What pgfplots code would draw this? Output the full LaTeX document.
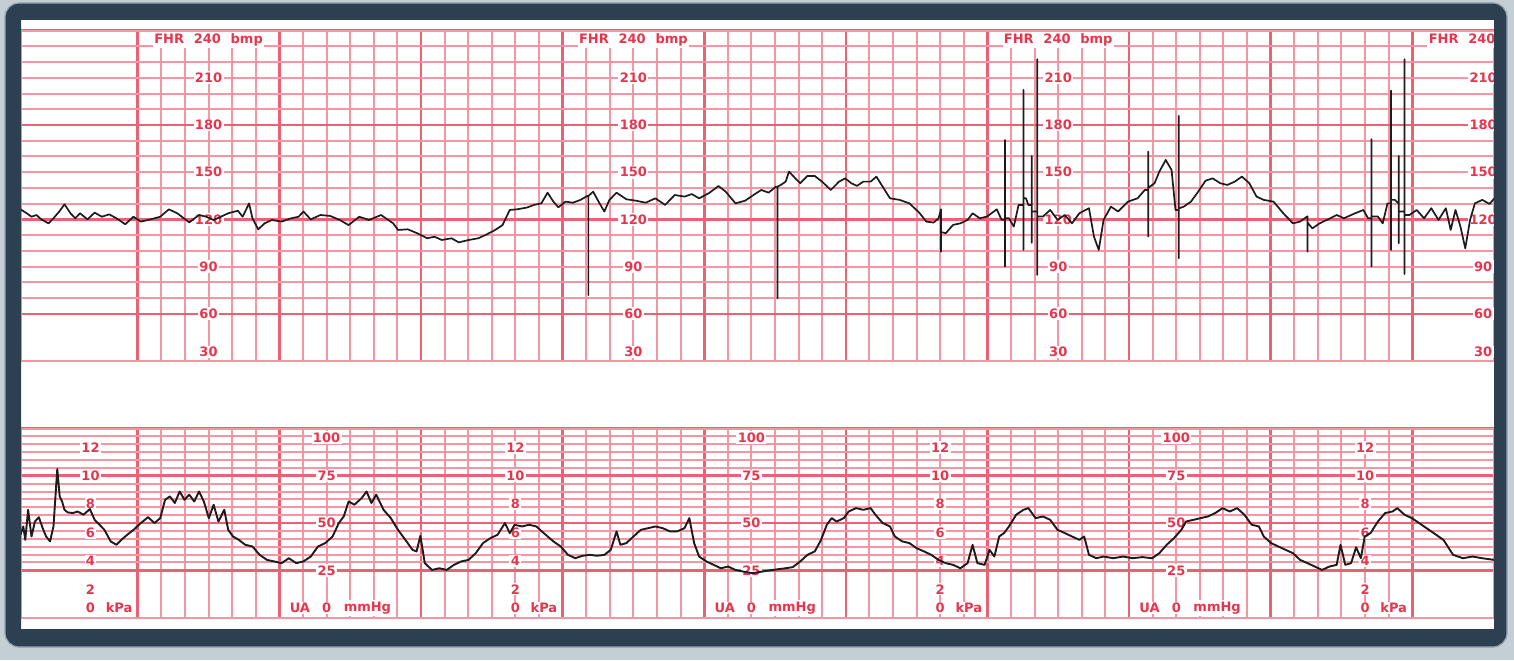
\documentclass[border=0pt]{standalone}
\usepackage{pgfplots}
\pgfplotsset{compat=1.18}
\usepackage{fontspec}
\setmainfont{DejaVu Sans}
\definecolor{framedark}{RGB}{44,64,82}
\definecolor{frameedge}{RGB}{150,165,175}
\definecolor{frameouter}{RGB}{196,206,213}
\definecolor{gridminor}{RGB}{245,150,162}
\definecolor{gridmajor}{RGB}{236,98,116}
\definecolor{labred}{RGB}{232,52,76}
\definecolor{tracec}{RGB}{28,28,28}
\tikzset{lab/.style={fill=white, text=labred, font=\fontsize{6.5}{7}\selectfont\bfseries, inner sep=0.7pt}}
\pgfplotsset{ctg/.style={
  scale only axis, anchor=south west,
  xmin=0.1758, xmax=10.577,
  xtick={1,2,3,4,5,6,7,8,9,10}, minor x tick num=5,
  grid=both,
  major grid style={draw=gridmajor, line width=1.3pt},
  minor grid style={draw=gridminor, line width=1.0pt},
  xticklabels={}, yticklabels={},
  major tick length=0pt, minor tick length=0pt,
  axis line style={draw=gridminor, line width=1.0pt},
}}
\begin{document}
\begin{tikzpicture}
\fill[frameouter] (0,0) rectangle (757pt,330pt);
\fill[white] (10.5pt,15.5pt) rectangle (747pt,320pt);
% ---------------- FHR panel ----------------
\begin{axis}[ctg, at={(10.5pt,149.5pt)}, width=736.5pt, height=165.2pt,
  ymin=30, ymax=240, ytick={60,120,180,240}, minor y tick num=5]
\pgfplotsinvokeforeach{1.5,4.5,7.5,10.5}{
  \node[lab] at (axis cs:#1,234) {FHR\hspace{0.75em}240\hspace{0.75em}bmp};
  \node[lab] at (axis cs:#1,210) {210};
  \node[lab] at (axis cs:#1,180) {180};
  \node[lab] at (axis cs:#1,150) {150};
  \node[lab] at (axis cs:#1,120) {120};
  \node[lab] at (axis cs:#1,90) {90};
  \node[lab] at (axis cs:#1,60) {60};
  \node[lab] at (axis cs:#1,35.7) {30};
}
\addplot[tracec, line width=0.85pt, line join=round] coordinates {
(0.172,126.4)(0.216,123.9)(0.250,121.7)(0.285,122.8)(0.319,120.0)(0.370,117.5)(0.405,120.7)(0.446,125.0)(0.483,129.6)(0.525,123.9)(0.559,120.7)(0.593,123.9)(0.645,120.0)(0.696,124.3)(0.747,121.7)(0.799,123.2)(0.850,120.7)(0.912,116.9)(0.970,121.7)(1.022,118.6)(1.090,120.0)(1.159,121.7)(1.220,126.4)(1.279,123.9)(1.364,118.1)(1.433,122.8)(1.484,121.7)(1.536,119.6)(1.587,121.7)(1.639,123.9)(1.707,125.5)(1.741,121.7)(1.786,130.2)(1.810,120.7)(1.851,113.7)(1.896,117.5)(1.947,119.6)(2.016,118.6)(2.084,120.7)(2.136,121.7)(2.170,125.0)(2.222,120.0)(2.290,122.8)(2.359,122.2)(2.427,119.6)(2.489,116.4)(2.564,121.7)(2.633,119.6)(2.718,122.8)(2.770,119.6)(2.804,117.5)(2.838,113.3)(2.907,113.7)(2.976,111.1)(3.044,108.0)(3.096,109.0)(3.147,106.9)(3.216,108.0)(3.267,105.4)(3.336,106.9)(3.404,108.0)(3.456,110.1)(3.524,113.3)(3.576,116.4)(3.627,126.0)(3.678,126.4)(3.747,127.5)(3.798,129.2)(3.850,130.2)(3.894,137.0)(3.935,131.3)(3.970,127.7)(4.021,131.3)(4.072,130.6)(4.124,132.3)(4.175,134.9)(4.182,134.9)(4.182,71.9)(4.182,134.9)(4.216,137.6)(4.261,130.2)(4.295,125.0)(4.330,132.3)(4.381,137.0)(4.450,132.8)(4.518,131.9)(4.587,130.6)(4.655,133.4)(4.724,129.2)(4.792,135.5)(4.861,134.5)(4.912,136.1)(4.964,133.4)(5.032,136.6)(5.101,141.2)(5.152,137.6)(5.221,130.2)(5.289,131.9)(5.358,136.1)
(5.403,138.7)(5.455,137.0)(5.506,140.8)(5.517,140.8)(5.517,69.9)(5.517,140.8)(5.541,141.9)(5.575,144.0)(5.599,150.4)(5.643,146.1)(5.678,143.0)(5.729,147.6)(5.781,147.6)(5.832,144.0)(5.894,138.7)(5.952,144.0)(5.996,146.1)(6.038,143.0)(6.079,141.3)(6.123,144.0)(6.175,144.0)(6.216,147.2)(6.260,140.8)(6.312,133.4)(6.380,132.4)(6.449,130.2)(6.518,124.3)(6.569,118.6)(6.620,118.0)(6.655,120.7)(6.672,126.4)(6.672,99.5)(6.672,112)(6.706,111.2)(6.757,116.5)(6.809,117.5)(6.860,119.7)(6.895,123.9)(6.946,120.7)(6.997,121.8)(7.066,126.4)(7.100,119.7)(7.124,119.7)(7.124,170.5)(7.124,90.0)(7.124,120.7)(7.152,120.7)(7.186,115.4)(7.220,129.2)(7.254,129.2)(7.254,202.3)(7.254,100.6)(7.254,133.4)(7.272,133.4)(7.289,129.2)(7.313,129.2)(7.313,160.3)(7.313,105.2)(7.313,125)(7.351,125)(7.351,221.8)(7.351,84.7)(7.351,121.8)(7.392,121.8)(7.443,126.0)(7.495,119.7)(7.546,122.8)(7.597,117.5)(7.649,123.9)(7.717,127.1)(7.752,109.1)(7.786,100.6)(7.820,119.7)(7.872,128.1)(7.923,125.0)(7.992,131.3)(8.060,133.4)(8.111,138.7)(8.135,138.7)(8.135,163.1)(8.135,109.1)(8.135,140)(8.180,143.0)(8.214,150.4)(8.259,157.8)(8.300,151.4)(8.328,126.0)(8.351,126.0)(8.351,185.8)(8.351,95.3)(8.351,127)(8.386,128.1)(8.437,131.3)(8.489,137.7)(8.540,144.6)(8.591,146.1)(8.643,143.0)(8.694,141.9)(8.746,144.0)(8.797,147.2)(8.849,143.0)(8.900,134.5)(8.951,132.4)(9.020,131.3)(9.089,123.9)(9.157,117.5)(9.208,118.6)(9.260,122)(9.260,99.5)(9.260,118)(9.294,114.3)(9.346,117.5)(9.397,119.7)(9.466,122.8)(9.517,120.7)(9.586,123.5)(9.654,126.0)(9.688,120.7)(9.712,120.7)(9.712,170.9)(9.712,90.0)(9.712,121.8)(9.757,121.8)(9.791,117.5)(9.825,130.2)(9.850,130.2)(9.850,201.9)(9.850,100.6)(9.850,132.4)(9.877,132.4)(9.904,130)(9.904,160.3)(9.904,104.8)(9.904,125)(9.945,125)(9.945,221.8)(9.945,85.3)(9.945,122.8)(9.980,122.8)(10.031,126.0)(10.083,120.7)(10.134,127.1)(10.185,119.7)(10.237,127.1)(10.271,113.3)(10.305,126.0)(10.340,115.4)(10.374,101.6)(10.408,119.7)(10.442,130.2)(10.494,132.4)(10.545,129.8)(10.580,133.4)
};
\end{axis}
% ---------------- UA panel ----------------
\begin{axis}[ctg, at={(10.5pt,21.2pt)}, width=736.5pt, height=94.55pt,
  ymin=0, ymax=100, ytick={25,50,75,100}, minor y tick num=5]
\pgfplotsinvokeforeach{0.66667,3.66667,6.66667,9.66667}{
  \node[lab] at (axis cs:#1,90) {12};
  \node[lab] at (axis cs:#1,75) {10};
  \node[lab] at (axis cs:#1,60) {8};
  \node[lab] at (axis cs:#1,45) {6};
  \node[lab] at (axis cs:#1,30) {4};
  \node[lab] at (axis cs:#1,15) {2};
  \node[lab, label={[lab, label distance=0pt]east:\hspace{0.55em}kPa}] at (axis cs:#1,5.1) {0};
}
\pgfplotsinvokeforeach{2.33333,5.33333,8.33333}{
  \node[lab] at (axis cs:#1,95.1) {100};
  \node[lab] at (axis cs:#1,75) {75};
  \node[lab] at (axis cs:#1,50) {50};
  \node[lab] at (axis cs:#1,25) {25};
  \node[lab, label={[lab, label distance=0pt]west:UA\kern0.65em\mbox{}}, label={[lab, label distance=0pt]east:\hspace{0.7em}mmHg}] at (axis cs:#1,5.1) {0};
}
\addplot[tracec, line width=0.95pt, line join=round] coordinates {
(0.172,43.8)(0.192,48.2)(0.206,41.1)(0.226,57.0)(0.250,42.9)(0.274,50.8)(0.302,53.1)(0.329,47.3)(0.353,42.9)(0.381,40.3)(0.405,48.2)(0.432,78.6)(0.449,64.1)(0.466,61.4)(0.483,57.0)(0.507,55.6)(0.542,55.3)(0.576,56.1)(0.617,54.4)(0.662,57.4)(0.696,51.7)(0.730,49.1)(0.765,46.4)(0.809,40.3)(0.850,38.5)(0.884,41.1)(0.926,43.8)(0.970,46.4)(1.022,50.0)(1.073,53.1)(1.118,50.0)(1.159,52.6)(1.193,62.3)(1.227,64.1)(1.262,60.6)(1.296,66.7)(1.330,62.3)(1.364,65.0)(1.399,61.4)(1.433,66.7)(1.467,61.4)(1.502,52.6)(1.536,59.7)(1.570,50.8)(1.611,57.0)(1.639,46.4)(1.673,42.9)(1.714,41.1)(1.759,38.5)(1.810,37.6)(1.861,33.2)(1.913,30.5)(1.964,29.7)(2.016,28.8)(2.067,31.4)(2.119,28.8)(2.170,29.7)(2.222,32.3)(2.273,37.6)(2.324,39.4)(2.376,42.9)(2.420,50.0)(2.455,53.5)(2.489,61.4)(2.530,59.7)(2.581,63.2)(2.616,66.7)(2.650,60.6)(2.684,65.0)(2.736,57.0)(2.787,52.6)(2.838,46.4)(2.890,41.1)(2.941,35.8)(2.969,35.0)(2.996,43.3)(3.027,28.8)(3.078,25.2)(3.130,26.1)(3.181,25.2)(3.233,27.9)(3.284,29.7)(3.336,30.5)(3.387,34.1)(3.438,39.4)(3.490,42.0)(3.541,43.8)(3.593,50.0)(3.627,44.7)(3.661,49.1)(3.713,48.2)(3.764,49.1)(3.815,48.2)(3.867,44.7)(3.935,40.3)(3.987,37.6)(4.038,33.2)(4.090,31.4)(4.141,32.7)(4.192,33.2)(4.244,32.7)(4.295,33.2)(4.340,35.8)(4.381,45.6)(4.408,38.5)(4.450,39.4)(4.501,42.9)(4.552,46.4)(4.604,47.3)(4.655,48.2)(4.707,47.3)(4.758,45.6)(4.809,45.6)(4.861,47.3)(4.895,52.6)(4.929,39.4)(4.964,32.3)(5.015,29.7)(5.067,27.9)(5.118,26.1)(5.169,27.0)(5.221,25.2)(5.272,24.4)(5.341,23.5)
(5.455,24.9)(5.523,25.6)(5.575,26.1)(5.626,26.7)(5.678,29.7)(5.729,33.2)(5.781,35.0)(5.825,41.1)(5.866,49.1)(5.900,52.6)(5.935,50.8)(5.986,52.6)(6.020,56.1)(6.072,57.9)(6.123,57.0)(6.175,57.9)(6.209,54.4)(6.260,50.0)(6.312,48.2)(6.346,42.9)(6.398,40.3)(6.449,39.4)(6.500,36.7)(6.552,35.0)(6.603,33.2)(6.655,30.5)(6.706,28.8)(6.757,27.9)(6.809,26.1)(6.860,28.8)(6.895,38.5)(6.929,28.8)(6.980,27.9)(7.015,35.8)(7.049,32.3)(7.083,42.9)(7.117,44.7)(7.152,48.2)(7.203,54.4)(7.254,57.0)(7.289,57.9)(7.340,52.6)(7.392,53.5)(7.443,51.7)(7.495,46.4)(7.546,44.7)(7.597,42.9)(7.649,41.1)(7.683,42.9)(7.717,33.2)(7.769,31.4)(7.820,32.3)(7.889,31.4)(7.957,32.3)(8.026,31.4)(8.094,32.0)(8.163,31.4)(8.214,34.1)(8.266,38.5)(8.317,42.0)(8.369,46.4)(8.403,50.8)(8.454,51.7)(8.506,52.6)(8.557,53.5)(8.609,55.3)(8.660,57.9)(8.711,56.1)(8.763,57.9)(8.814,54.4)(8.866,49.1)(8.917,48.2)(8.951,42.9)(9.003,39.4)(9.054,37.6)(9.106,35.8)(9.157,34.1)(9.208,30.5)(9.260,28.8)(9.311,27.0)(9.363,25.2)(9.414,27.0)(9.466,27.9)(9.493,38.5)(9.527,27.9)(9.568,28.8)(9.603,37.2)(9.637,31.4)(9.664,42.9)(9.705,44.7)(9.757,50.8)(9.808,55.3)(9.860,56.1)(9.894,57.9)(9.945,54.4)(9.997,52.6)(10.048,50.0)(10.100,47.3)(10.151,44.7)(10.220,41.1)(10.288,33.2)(10.357,31.4)(10.425,32.3)(10.494,31.4)(10.580,30.5)
};
\end{axis}
% ---------------- monitor frame ----------------
\fill[framedark, even odd rule] (2.5pt,6.5pt) [rounded corners=7pt] rectangle (753.5pt,328.5pt) [sharp corners] (10.5pt,15.5pt) rectangle (747pt,320pt);
\draw[frameedge, line width=0.6pt, rounded corners=7pt] (2.5pt,6.5pt) rectangle (753.5pt,328.5pt);
\pgfresetboundingbox
\path[use as bounding box] (0,0) rectangle (757pt,330pt);
\end{tikzpicture}
\end{document}
